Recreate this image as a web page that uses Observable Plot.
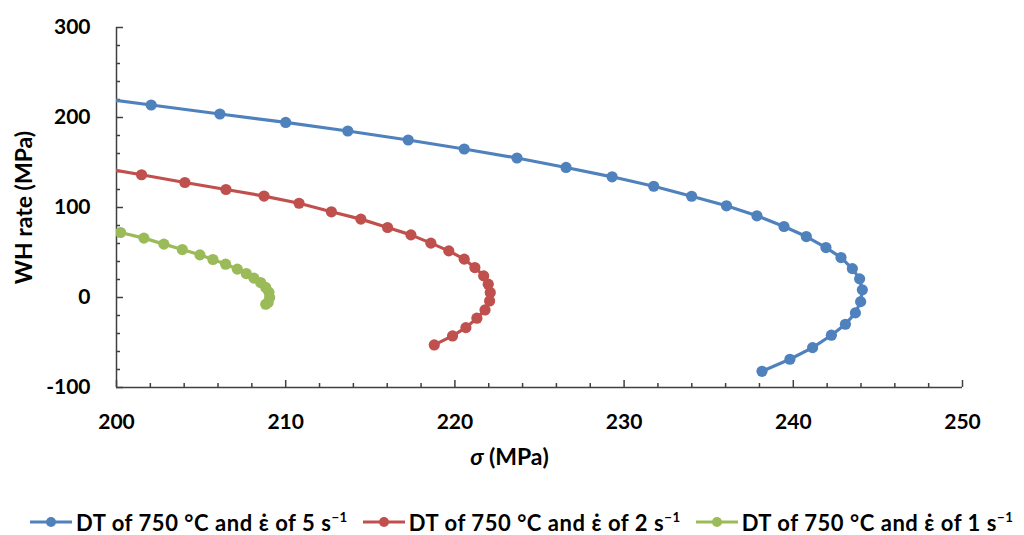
<!DOCTYPE html>
<html>
<head>
<meta charset="utf-8">
<script src="https://cdn.jsdelivr.net/npm/d3@7"></script>
<script src="https://cdn.jsdelivr.net/npm/@observablehq/plot@0.6"></script>
<style>
  html, body { margin: 0; padding: 0; background: #fff; }
  #chart { width: 1024px; }
  .legend {
    display: flex; align-items: center; height: 64px;
    padding-left: 30px; gap: 15px;
    font-family: Lato, "Open Sans", sans-serif; font-weight: bold; font-size: 22px;
    letter-spacing: 0.55px; color: #000;
  }
  .legend .item { display: flex; align-items: center; white-space: nowrap; }
  .legend svg { margin-right: 4px; }
  .legend sup { font-size: 0.6em; vertical-align: 0.7em; line-height: 0; }
</style>
</head>
<body>
<div id="chart"></div>
<script>
// Flow stress σ (MPa) and work-hardening rate (MPa) for each strain rate
const sigma5 = [197.99, 202.05, 206.11, 210.00, 213.67, 217.24, 220.55, 223.67, 226.57, 229.29,
  231.75, 233.99, 236.05, 237.85, 239.45, 240.77, 241.93, 242.82, 243.49, 243.92,
  244.08, 243.98, 243.67, 243.08, 242.25, 241.14, 239.80, 238.15];
const rate5 = [223.9, 213.9, 203.9, 194.5, 185.0, 175.0, 165.0, 155.0, 144.5, 134.1,
  123.6, 112.5, 101.9, 90.8, 78.9, 67.7, 55.5, 44.4, 32.1, 20.7,
  8.5, -4.6, -17.1, -29.7, -41.9, -55.7, -68.6, -82.0];

const sigma2 = [198.80, 201.48, 204.04, 206.47, 208.72, 210.79, 212.70, 214.44, 216.02, 217.40,
  218.58, 219.64, 220.55, 221.18, 221.70, 221.97, 222.09, 222.05, 221.78, 221.30,
  220.65, 219.86, 218.78];
const rate2 = [144.9, 136.4, 127.8, 120.0, 112.7, 104.7, 95.2, 87.1, 77.8, 69.6,
  60.4, 51.8, 42.6, 33.3, 24.0, 14.8, 5.5, -3.8, -13.8, -23.0,
  -33.5, -42.7, -52.7];

const sigma1 = [200.24, 201.62, 202.80, 203.89, 204.93, 205.70, 206.45, 207.14, 207.67, 208.12,
  208.52, 208.82, 209.01, 209.05, 208.96, 208.82];
const rate1 = [72.2, 66.0, 59.3, 53.3, 47.4, 42.2, 37.0, 31.5, 26.6, 21.5,
  16.6, 11.2, 5.7, 0.1, -5.5, -7.5];

const seriesNames = [
  "DT of 750 °C and ε̇ of 5 s⁻¹",
  "DT of 750 °C and ε̇ of 2 s⁻¹",
  "DT of 750 °C and ε̇ of 1 s⁻¹"
];
const seriesColors = ["#4F81BD", "#C0504D", "#9BBB59"];

const xMajor = [200, 210, 220, 230, 240, 250];
const xMinor = d3.range(202, 250, 2).filter(v => v % 10 !== 0);
const yMajor = [-100, 0, 100, 200, 300];
const yMinor = d3.range(-80, 300, 20).filter(v => v % 100 !== 0);

const xTitle = "σ (MPa)";
const yTitle = "WH rate (MPa)";

const rows = [
  ...sigma5.map((s, i) => ({series: seriesNames[0], sigma: s, rate: rate5[i]})),
  ...sigma2.map((s, i) => ({series: seriesNames[1], sigma: s, rate: rate2[i]})),
  ...sigma1.map((s, i) => ({series: seriesNames[2], sigma: s, rate: rate1[i]}))
];

const W = 1024, H = 490;
const mL = 116, mR = 62, mT = 27, mB = 103;
const frameW = W - mL - mR, frameH = H - mT - mB;
const axisColor = "#404040";

const chart = Plot.plot({
  width: W, height: H,
  marginLeft: mL, marginRight: mR, marginTop: mT, marginBottom: mB,
  style: {fontFamily: "Lato, 'Open Sans', sans-serif", fontSize: "21px", fontWeight: "bold", color: "#000", background: "#fff"},
  x: {domain: [200, 250]},
  y: {domain: [-100, 300]},
  color: {domain: seriesNames, range: seriesColors},
  marks: [
    // inward tick marks on both axes
    Plot.tickY(yMinor, {insetRight: frameW - 4, stroke: axisColor, strokeWidth: 1.5}),
    Plot.tickY(yMajor, {insetRight: frameW - 7, stroke: axisColor, strokeWidth: 1.5}),
    Plot.tickX(xMinor, {insetTop: frameH - 4, stroke: axisColor, strokeWidth: 1.5}),
    Plot.tickX(xMajor, {insetTop: frameH - 7, stroke: axisColor, strokeWidth: 1.5}),
    Plot.ruleX([200], {stroke: axisColor, strokeWidth: 1.5}),
    Plot.ruleY([-100], {stroke: axisColor, strokeWidth: 1.5}),
    Plot.axisY({ticks: yMajor, tickSize: 0, tickPadding: 26, label: null, tickFormat: d => String(d)}),
    Plot.axisX({ticks: xMajor, tickSize: 0, tickPadding: 27, label: null, tickFormat: d => String(d)}),
    Plot.line(rows, {x: "sigma", y: "rate", z: "series", stroke: "series", strokeWidth: 3.2, clip: true}),
    Plot.dot(rows, {x: "sigma", y: "rate", fill: "series", r: 5.6, clip: true}),
    Plot.text([yTitle], {frameAnchor: "left", textAnchor: "middle", rotate: -90, dx: -92, fontSize: 23}),
    Plot.text([xTitle], {frameAnchor: "bottom", textAnchor: "middle", dx: -30, dy: 77, fontSize: 23})
  ]
});

// italic sigma in the x-axis title
d3.select(chart).selectAll("text")
  .filter(function () { return this.textContent === xTitle; })
  .each(function () {
    const t = d3.select(this);
    t.text(null);
    t.append("tspan").attr("font-style", "italic").text("σ");
    t.append("tspan").text(" (MPa)");
  });

document.getElementById("chart").appendChild(chart);

// legend below the plot
const legend = d3.select("#chart").append("div").attr("class", "legend");
seriesNames.forEach((name, i) => {
  const item = legend.append("div").attr("class", "item");
  const sw = item.append("svg").attr("width", 42).attr("height", 12);
  sw.append("line").attr("x1", 0).attr("x2", 42).attr("y1", 6).attr("y2", 6)
    .attr("stroke", seriesColors[i]).attr("stroke-width", 3);
  sw.append("circle").attr("cx", 21).attr("cy", 6).attr("r", 5).attr("fill", seriesColors[i]);
  const base = name.replace("⁻¹", "");
  const span = item.append("span");
  span.append("tspan").text(base);
  span.append("sup").text("−1");
});
</script>
</body>
</html>
